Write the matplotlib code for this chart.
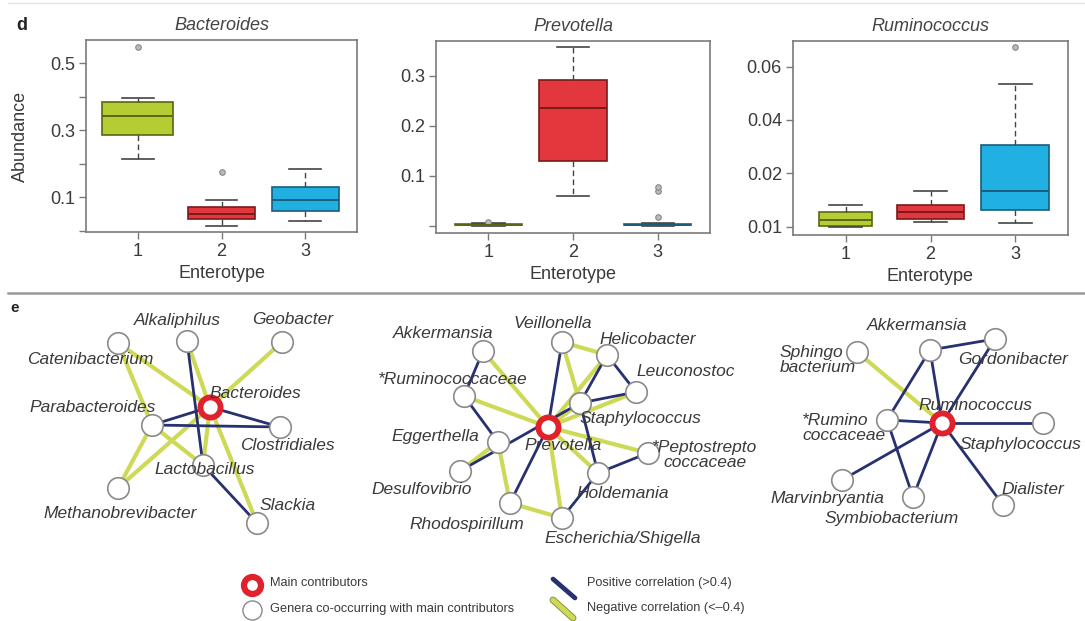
import numpy as np
import matplotlib
matplotlib.use("Agg")
import matplotlib.pyplot as plt
import matplotlib.patheffects as pe

plt.rcParams['font.family'] = ['Liberation Sans', 'DejaVu Sans']

# ---- panel d: box plot summaries (abundance per enterotype) ----
enterotypes = [1, 2, 3]
box_colors = ['#b5cd33', '#e2373c', '#20b1e2']
box_edges = ['#5a6612', '#7a1a1c', '#1b5c7c']

bact_whislo = [0.213, 0.014, 0.028]
bact_q1 = [0.285, 0.034, 0.059]
bact_med = [0.342, 0.049, 0.091]
bact_q3 = [0.385, 0.071, 0.129]
bact_whishi = [0.395, 0.091, 0.183]
bact_fliers = [[0.547], [0.175], []]

prev_whislo = [0.0, 0.060, 0.0]
prev_q1 = [0.001, 0.129, 0.001]
prev_med = [0.002, 0.235, 0.002]
prev_q3 = [0.003, 0.291, 0.003]
prev_whishi = [0.006, 0.357, 0.006]
prev_fliers = [[0.008], [], [0.018, 0.069, 0.078]]

rumi_whislo = [0.0100, 0.0109, 0.0106]
rumi_q1 = [0.0102, 0.0114, 0.0131]
rumi_med = [0.01125, 0.0128, 0.01675]
rumi_q3 = [0.0128, 0.0141, 0.0306]
rumi_whishi = [0.0141, 0.01675, 0.0535]
rumi_fliers = [[], [], [0.0673]]

# ---- panel e: co-occurrence networks ----
bact_nodes = ['Bacteroides', 'Catenibacterium', 'Alkaliphilus', 'Geobacter', 'Parabacteroides',
              'Clostridiales', 'Lactobacillus', 'Methanobrevibacter', 'Slackia']
bact_x = [210, 118, 187, 282, 152, 280, 203, 118, 257]
bact_y = [407, 343, 341, 342, 425, 427, 465, 488, 523]
bact_pos = [('Bacteroides', 'Parabacteroides'), ('Bacteroides', 'Clostridiales'),
            ('Parabacteroides', 'Clostridiales'), ('Alkaliphilus', 'Lactobacillus'),
            ('Lactobacillus', 'Slackia')]
bact_neg = [('Bacteroides', 'Catenibacterium'), ('Bacteroides', 'Geobacter'),
            ('Catenibacterium', 'Parabacteroides'), ('Parabacteroides', 'Methanobrevibacter'),
            ('Bacteroides', 'Methanobrevibacter'), ('Parabacteroides', 'Lactobacillus'),
            ('Bacteroides', 'Slackia'), ('Alkaliphilus', 'Bacteroides'),
            ('Bacteroides', 'Lactobacillus')]

prev_nodes = ['Prevotella', 'Akkermansia', 'Veillonella', 'Helicobacter', '*Ruminococcaceae',
              'Leuconostoc', 'Staphylococcus', 'Eggerthella', '*Peptostrepto\ncoccaceae',
              'Desulfovibrio', 'Holdemania', 'Rhodospirillum', 'Escherichia/Shigella']
prev_x = [548, 483, 562, 607, 464, 636, 580, 498, 648, 460, 598, 510, 562]
prev_y = [427, 351, 342, 355, 396, 392, 403, 442, 453, 471, 473, 503, 518]
prev_pos = [('Akkermansia', '*Ruminococcaceae'), ('Veillonella', 'Prevotella'),
            ('Helicobacter', 'Leuconostoc'), ('Helicobacter', 'Staphylococcus'),
            ('Staphylococcus', 'Leuconostoc'), ('*Ruminococcaceae', 'Eggerthella'),
            ('Desulfovibrio', 'Staphylococcus'), ('Prevotella', 'Rhodospirillum'),
            ('Staphylococcus', 'Holdemania'), ('Holdemania', '*Peptostrepto\ncoccaceae'),
            ('Holdemania', 'Escherichia/Shigella')]
prev_neg = [('Akkermansia', 'Prevotella'), ('*Ruminococcaceae', 'Prevotella'),
            ('Veillonella', 'Helicobacter'), ('Veillonella', 'Staphylococcus'),
            ('Helicobacter', 'Prevotella'), ('Leuconostoc', 'Prevotella'),
            ('Prevotella', '*Peptostrepto\ncoccaceae'), ('Prevotella', 'Holdemania'),
            ('Prevotella', 'Escherichia/Shigella'), ('Eggerthella', 'Desulfovibrio'),
            ('Eggerthella', 'Rhodospirillum'), ('Rhodospirillum', 'Escherichia/Shigella'),
            ('Staphylococcus', 'Prevotella')]

rumi_nodes = ['Ruminococcus', 'Sphingo\nbacterium', 'Akkermansia', 'Gordonibacter',
              '*Rumino\ncoccaceae', 'Staphylococcus', 'Marvinbryantia', 'Symbiobacterium', 'Dialister']
rumi_x = [942, 857, 930, 995, 887, 1043, 842, 913, 1003]
rumi_y = [423, 352, 350, 339, 420, 423, 480, 497, 505]
rumi_pos = [('Akkermansia', 'Gordonibacter'), ('Akkermansia', '*Rumino\ncoccaceae'),
            ('Akkermansia', 'Ruminococcus'), ('Gordonibacter', 'Ruminococcus'),
            ('*Rumino\ncoccaceae', 'Ruminococcus'), ('*Rumino\ncoccaceae', 'Symbiobacterium'),
            ('Ruminococcus', 'Staphylococcus'), ('Ruminococcus', 'Marvinbryantia'),
            ('Ruminococcus', 'Symbiobacterium'), ('Ruminococcus', 'Dialister')]
rumi_neg = [('Sphingo\nbacterium', 'Ruminococcus')]

# label anchors (x, y, ha) for the network labels
bact_labels = {'Bacteroides': (255, 394, 'center'), 'Catenibacterium': (90, 360, 'center'),
               'Alkaliphilus': (177, 320, 'center'), 'Geobacter': (293, 320, 'center'),
               'Parabacteroides': (93, 407, 'center'), 'Clostridiales': (287, 445, 'center'),
               'Lactobacillus': (205, 470, 'center'), 'Methanobrevibacter': (120, 513, 'center'),
               'Slackia': (288, 505, 'center')}
prev_labels = {'Prevotella': (563, 446, 'center'), 'Akkermansia': (443, 333, 'center'),
               'Veillonella': (553, 323, 'center'), 'Helicobacter': (648, 340, 'center'),
               '*Ruminococcaceae': (453, 380, 'center'), 'Leuconostoc': (686, 372, 'center'),
               'Staphylococcus': (640, 419, 'center'), 'Eggerthella': (435, 436, 'center'),
               '*Peptostrepto\ncoccaceae': (705, 455, 'center'), 'Desulfovibrio': (422, 490, 'center'),
               'Holdemania': (623, 493, 'center'), 'Rhodospirillum': (467, 525, 'center'),
               'Escherichia/Shigella': (623, 538, 'center')}
rumi_labels = {'Ruminococcus': (975, 405, 'center'), 'Sphingo\nbacterium': (780, 360, 'left'),
               'Akkermansia': (917, 326, 'center'), 'Gordonibacter': (1013, 360, 'center'),
               '*Rumino\ncoccaceae': (802, 428, 'left'), 'Staphylococcus': (960, 445, 'left'),
               'Marvinbryantia': (827, 498, 'center'), 'Symbiobacterium': (892, 518, 'center'),
               'Dialister': (1033, 489, 'center')}

W, H = 1085, 621
POS_C = '#283170'
NEG_C = '#cfd958'
TXT_C = '#3a3a3a'

fig = plt.figure(figsize=(W / 100, H / 100), dpi=100)

# full-figure axes in pixel units for panel e, labels and separators
base = fig.add_axes([0, 0, 1, 1])
base.set_xlim(0, W)
base.set_ylim(H, 0)
base.axis('off')
base.plot([8, W], [293, 293], color='#9a9a9a', lw=1.8)
base.plot([8, W], [3, 3], color='#e4e4e4', lw=1.0)
base.text(22, 25, 'd', fontsize=13, fontweight='bold', ha='center', va='center', color='#222')
base.text(15, 308, 'e', fontsize=11, fontweight='bold', ha='center', va='center', color='#222')


def px_axes(l, t, r, b):
    return fig.add_axes([l / W, 1 - b / H, (r - l) / W, (b - t) / H])


def draw_box(ax, whislo, q1, med, q3, whishi, fliers, widths):
    stats = []
    for i in range(3):
        stats.append(dict(whislo=whislo[i], q1=q1[i], med=med[i], q3=q3[i],
                          whishi=whishi[i], fliers=fliers[i]))
    bp = ax.bxp(stats, positions=enterotypes, widths=widths, capwidths=0.38,
                patch_artist=True, showfliers=True,
                whiskerprops=dict(linestyle=(0, (4, 2.5)), lw=1.0),
                capprops=dict(lw=1.2),
                medianprops=dict(lw=1.4),
                flierprops=dict(marker='o', markersize=4, markerfacecolor='#bbbbbb',
                                markeredgecolor='#888888', markeredgewidth=0.8))
    for i in range(3):
        bp['boxes'][i].set_facecolor(box_colors[i])
        bp['boxes'][i].set_edgecolor(box_edges[i])
        bp['boxes'][i].set_linewidth(1.2)
        bp['medians'][i].set_color(box_edges[i])
        for k in (2 * i, 2 * i + 1):
            bp['whiskers'][k].set_color('#444444')
            bp['caps'][k].set_color('#444444')
    ax.set_xlim(0.38, 3.62)
    ax.set_xticks(enterotypes, [str(e) for e in enterotypes])
    for s in ax.spines.values():
        s.set_color('#7a7a7a')
        s.set_linewidth(1.2)
    ax.tick_params(direction='out', length=5, width=1.0, color='#7a7a7a',
                   labelsize=13, labelcolor='#3a3a3a', pad=3)
    ax.set_xlabel('Enterotype', fontsize=13, color='#3a3a3a')
    ax.xaxis.set_label_coords(0.5, -0.17)


ax1 = px_axes(86, 40, 357, 232)
draw_box(ax1, bact_whislo, bact_q1, bact_med, bact_q3, bact_whishi, bact_fliers, [0.85, 0.8, 0.8])
ax1.set_ylim(-0.004, 0.569)
ax1.set_yticks([0.0, 0.1, 0.2, 0.3, 0.4, 0.5], ['', '0.1', '', '0.3', '', '0.5'])
ax1.set_title('Bacteroides', style='italic', fontsize=13, color='#444444', pad=7)
ax1.set_ylabel('Abundance', fontsize=13, color='#3a3a3a')
ax1.yaxis.set_label_coords(-0.21, 0.5)

ax2 = px_axes(436, 41, 710, 233)
draw_box(ax2, prev_whislo, prev_q1, prev_med, prev_q3, prev_whishi, prev_fliers, [0.8, 0.8, 0.8])
ax2.set_ylim(-0.0146, 0.369)
ax2.set_yticks([0.0, 0.1, 0.2, 0.3], ['', '0.1', '0.2', '0.3'])
ax2.set_title('Prevotella', style='italic', fontsize=13, color='#444444', pad=7)

rumi_ticks = [0.01, 0.02, 0.04, 0.06]
scale_v = [-1.0, 0.01, 0.02, 0.04, 0.06, 1.0]
scale_u = [-101.0, 0.0, 1.0, 2.0, 3.0, 50.0]


def fwd(v):
    return np.interp(v, scale_v, scale_u)


def inv(u):
    return np.interp(u, scale_u, scale_v)


ax3 = px_axes(793, 41, 1068, 235)
ax3.set_yscale('function', functions=(fwd, inv))
draw_box(ax3, rumi_whislo, rumi_q1, rumi_med, rumi_q3, rumi_whishi, rumi_fliers, [0.62, 0.8, 0.8])
ax3.set_ylim(0.00844, 0.0696)
ax3.set_yticks(rumi_ticks, ['0.01', '0.02', '0.04', '0.06'])
ax3.yaxis.set_minor_locator(matplotlib.ticker.NullLocator())
ax3.set_title('Ruminococcus', style='italic', fontsize=13, color='#444444', pad=7)


def draw_network(nodes, xs, ys, pos_edges, neg_edges, labels):
    idx = {n: i for i, n in enumerate(nodes)}
    for a, b in neg_edges:
        base.plot([xs[idx[a]], xs[idx[b]]], [ys[idx[a]], ys[idx[b]]], color=NEG_C, lw=3.0,
                  solid_capstyle='round', zorder=2)
    for a, b in pos_edges:
        base.plot([xs[idx[a]], xs[idx[b]]], [ys[idx[a]], ys[idx[b]]], color=POS_C, lw=2.0,
                  solid_capstyle='round', zorder=3)
    base.scatter(xs[1:], ys[1:], s=240, facecolor='white', edgecolor='#8a8a8a', lw=1.2, zorder=4)
    base.scatter(xs[:1], ys[:1], s=210, facecolor='white', edgecolor='#e0222c', lw=4.2, zorder=5)
    for n in nodes:
        lx, ly, ha = labels[n]
        base.text(lx, ly, n, ha=ha, va='center', style='italic', fontsize=12.5, color=TXT_C,
                  linespacing=1.05, zorder=6)


draw_network(bact_nodes, bact_x, bact_y, bact_pos, bact_neg, bact_labels)
draw_network(prev_nodes, prev_x, prev_y, prev_pos, prev_neg, prev_labels)
draw_network(rumi_nodes, rumi_x, rumi_y, rumi_pos, rumi_neg, rumi_labels)

# legend
base.scatter([252], [585], s=150, facecolor='white', edgecolor='#e0222c', lw=4.5, zorder=5)
base.scatter([252], [610], s=190, facecolor='white', edgecolor='#8a8a8a', lw=1.0, zorder=5)
base.text(270, 583, 'Main contributors', fontsize=9.2, color=TXT_C, va='center')
base.text(270, 609, 'Genera co-occurring with main contributors', fontsize=9.2,
          color=TXT_C, va='center')
base.plot([553, 575], [579, 598], color=POS_C, lw=3.4, solid_capstyle='round')
base.plot([553, 573], [600, 618], color=NEG_C, lw=3.6, solid_capstyle='round',
          path_effects=[pe.Stroke(linewidth=5.0, foreground='#8d9434'), pe.Normal()])
base.text(587, 583, 'Positive correlation (>0.4)', fontsize=9.2, color=TXT_C, va='center')
base.text(587, 608, 'Negative correlation (<\u20130.4)', fontsize=9.2, color=TXT_C, va='center')

fig.savefig('out.png', dpi=100)
